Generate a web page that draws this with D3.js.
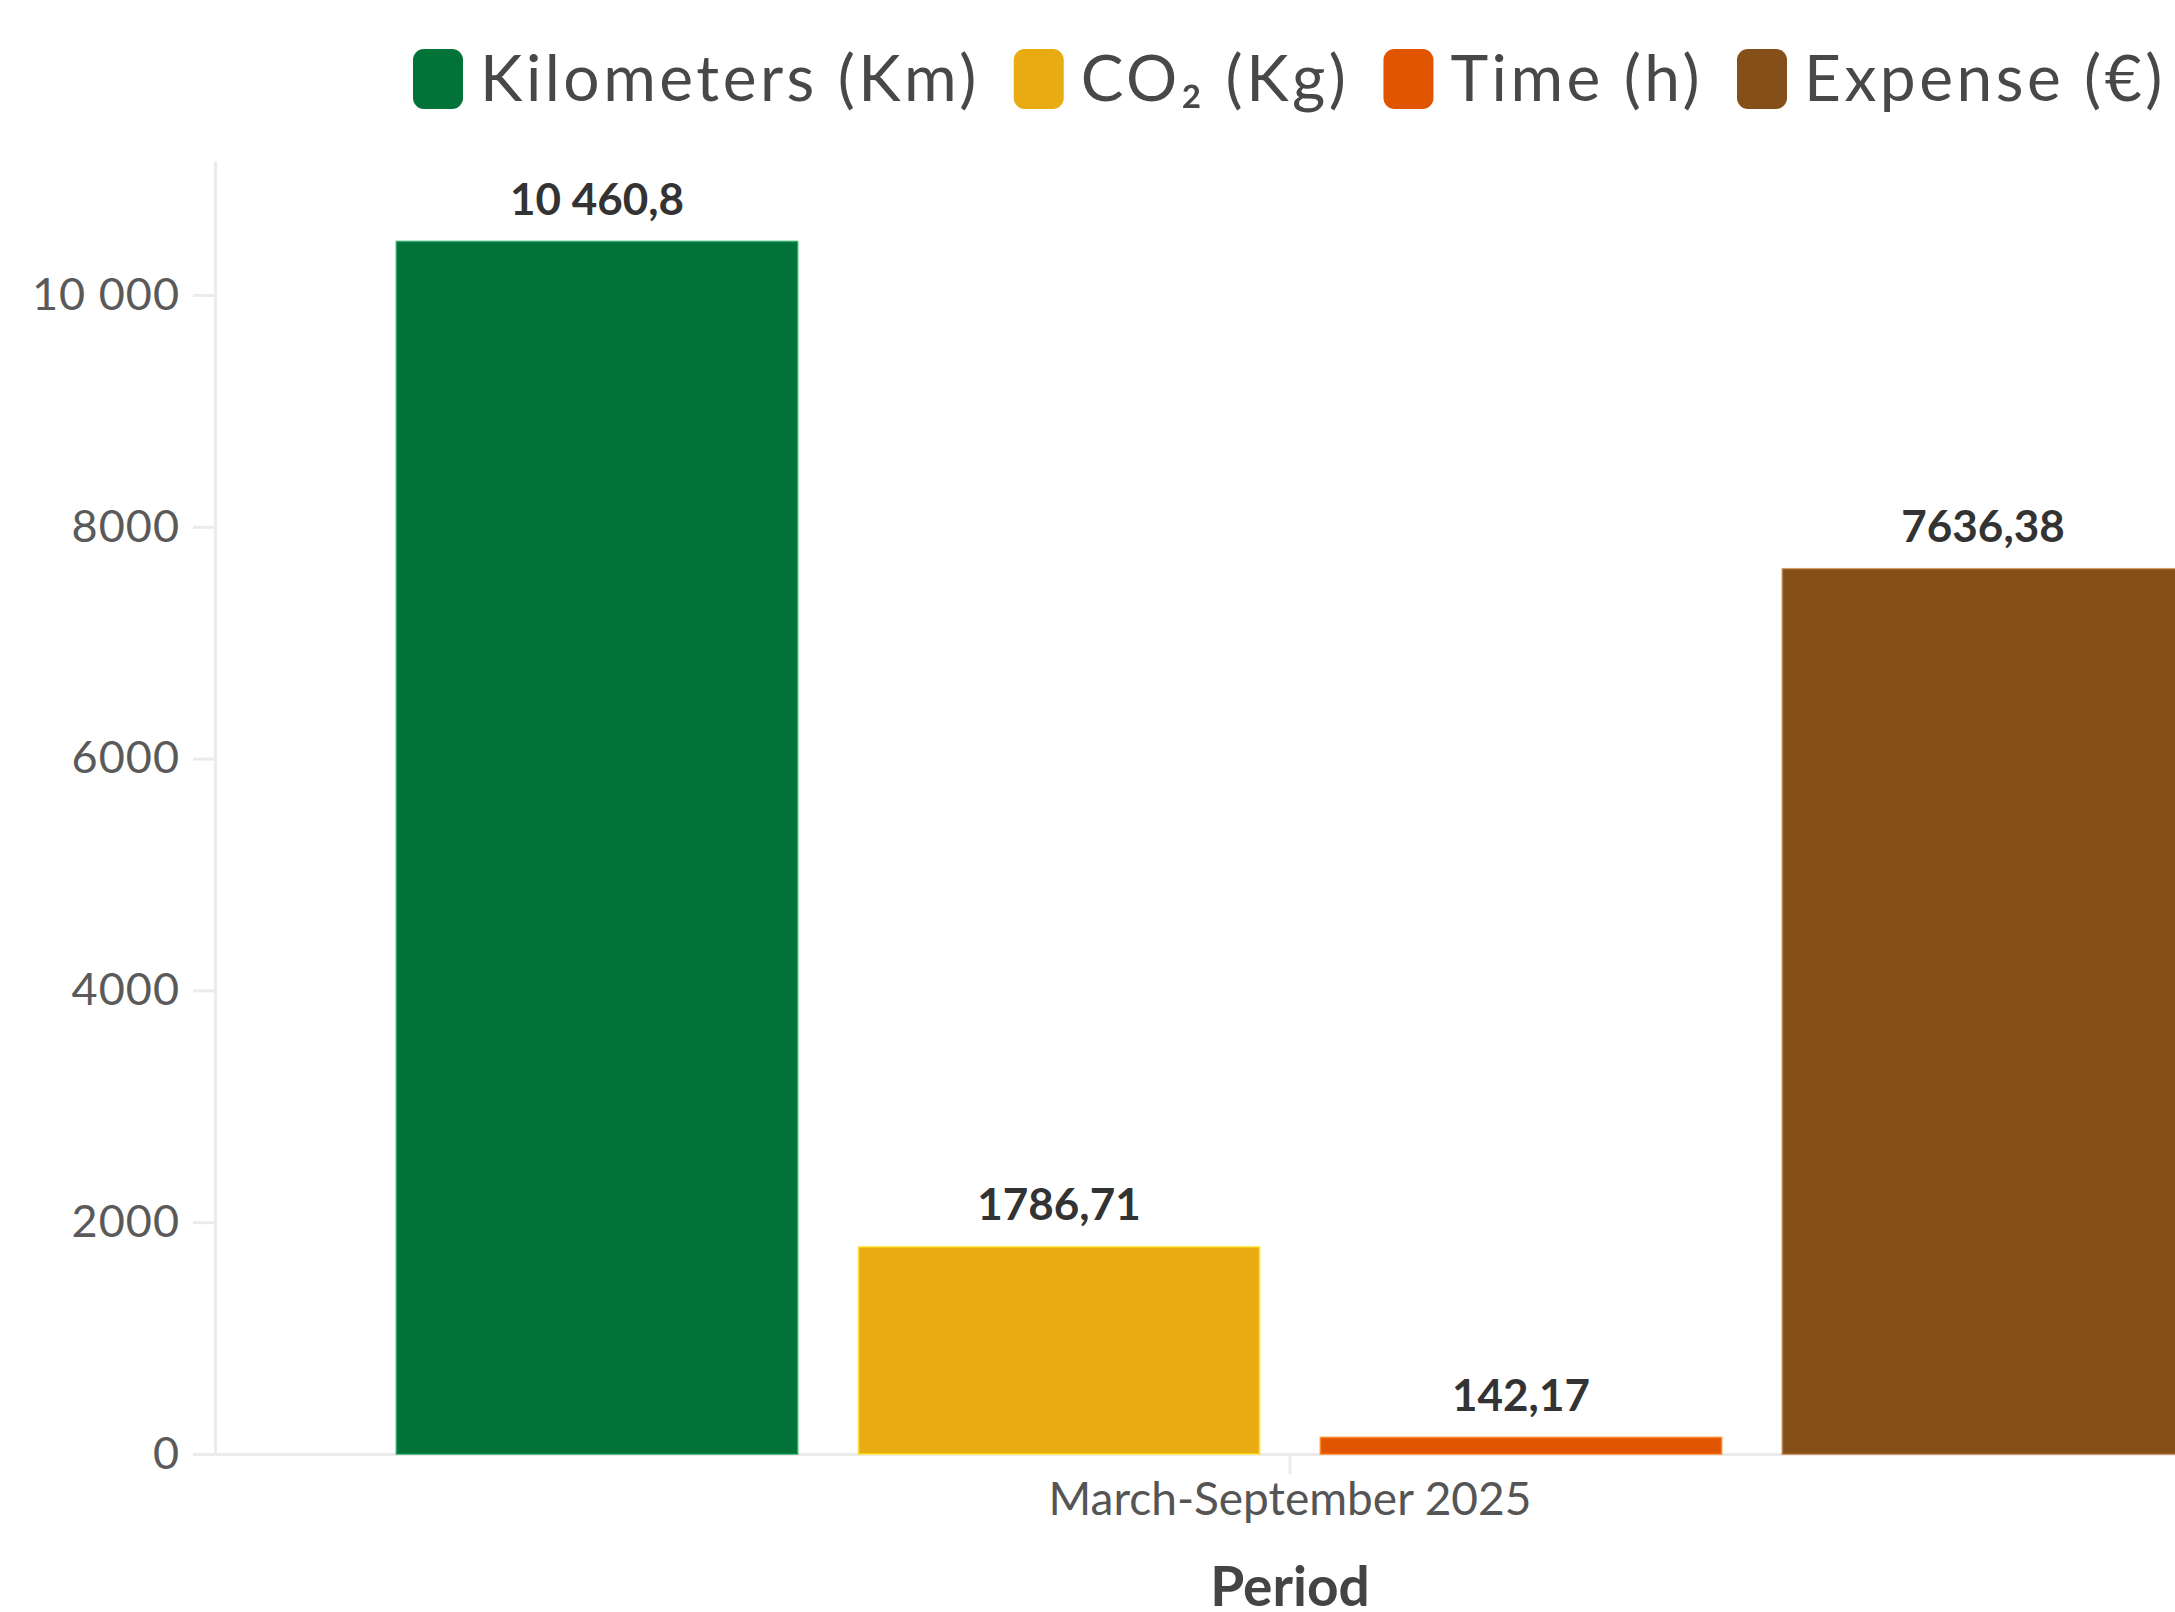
<!DOCTYPE html>
<html>
<head>
<meta charset="utf-8">
<script src="https://cdn.jsdelivr.net/npm/d3@7"></script>
<style>
  html, body { margin: 0; padding: 0; background: #fff; overflow: hidden; }
  svg { display: block; font-family: Lato, "Noto Sans", sans-serif; }
</style>
</head>
<body>
<svg id="chart" width="2175" height="1612"></svg>
<script>
// Travel totals for the period, one bar per measure
const periods = ["March-September 2025"];
const seriesNames = ["Kilometers (Km)", "CO\u2082 (Kg)", "Time (h)", "Expense (\u20ac)"];
const seriesValues = [10460.8, 1786.71, 142.17, 7636.38];
const seriesColors = ["#017238", "#e8ac12", "#e15500", "#844f19"];
const yTickValues = [0, 2000, 4000, 6000, 8000, 10000];
const yMax = 11156;

const svg = d3.select("#chart");
const plot = { left: 215, right: 2365, top: 161, bottom: 1454 };

// Numbers: comma decimals; grouping only from five digits up
const loc = d3.formatLocale({ decimal: ",", thousands: "\u00a0", grouping: [3] });
const fmtGroup = loc.format(",.2~f");
const fmtPlain = loc.format(".2~f");
const fmt = v => Math.abs(v) >= 10000 ? fmtGroup(v) : fmtPlain(v);

const y = d3.scaleLinear().domain([0, yMax]).range([plot.bottom, plot.top]);
const x0 = d3.scaleBand().domain(periods).range([plot.left, plot.right])
  .paddingInner(0).paddingOuter(0.0817);
const x1 = d3.scaleBand().domain(seriesNames).range([0, x0.bandwidth()])
  .paddingInner(0.132).paddingOuter(0.066);
const color = d3.scaleOrdinal().domain(seriesNames).range(seriesColors);

const axisColor = "#ebebeb";

// Y axis
const yAxis = svg.append("g")
  .attr("transform", `translate(${plot.left},0)`)
  .call(d3.axisLeft(y).tickValues(yTickValues).tickFormat(fmt).tickSize(22).tickPadding(13).tickSizeOuter(0));
yAxis.select(".domain").attr("stroke", axisColor).attr("stroke-width", 3);
yAxis.selectAll(".tick line").attr("stroke", axisColor).attr("stroke-width", 3);
yAxis.selectAll(".tick text").attr("fill", "#5a5a5a").attr("font-size", 45)
  .attr("letter-spacing", 1)
  .attr("font-family", "Lato, sans-serif");

// X axis
const xAxis = svg.append("g")
  .attr("transform", `translate(0,${plot.bottom})`)
  .call(d3.axisBottom(x0).tickSize(20).tickPadding(8).tickSizeOuter(0));
xAxis.select(".domain").attr("stroke", axisColor).attr("stroke-width", 3);
xAxis.selectAll(".tick line").attr("stroke", axisColor).attr("stroke-width", 3);
xAxis.selectAll(".tick text").attr("fill", "#555").attr("font-size", 46)
  .attr("font-family", "Lato, sans-serif");

// X axis title
svg.append("text")
  .attr("x", x0(periods[0]) + x0.bandwidth() / 2)
  .attr("y", 1606)
  .attr("text-anchor", "middle")
  .attr("font-size", 55)
  .attr("font-weight", "bold")
  .attr("fill", "#444")
  .text("Period");

// Bars
const rows = seriesNames.map((name, i) => ({ period: periods[0], name, value: seriesValues[i] }));
const group = svg.append("g");
group.selectAll("rect.bar")
  .data(rows)
  .join("rect")
  .attr("class", "bar")
  .attr("x", d => x0(d.period) + x1(d.name))
  .attr("y", d => y(d.value))
  .attr("width", x1.bandwidth())
  .attr("height", d => y(0) - y(d.value))
  .attr("fill", d => color(d.name))
  .attr("stroke", d => d3.color(color(d.name)).brighter(0.8))
  .attr("stroke-opacity", 0.6)
  .attr("stroke-width", 2);

// Value labels above bars
group.selectAll("text.val")
  .data(rows)
  .join("text")
  .attr("class", "val")
  .attr("x", d => x0(d.period) + x1(d.name) + x1.bandwidth() / 2)
  .attr("y", d => y(d.value) - 27)
  .attr("text-anchor", "middle")
  .attr("font-size", 44)
  .attr("font-weight", "bold")
  .attr("fill", "#333")
  .text(d => fmt(d.value));

// Legend: rounded swatches followed by names, laid out left to right
const legend = svg.append("g").attr("transform", "translate(413,0)");
let lx = 0;
seriesNames.forEach((name, i) => {
  const item = legend.append("g").attr("transform", `translate(${lx},0)`);
  item.append("rect")
    .attr("x", 0).attr("y", 49).attr("width", 50).attr("height", 60)
    .attr("rx", 11).attr("ry", 11)
    .attr("fill", seriesColors[i]);
  const t = item.append("text")
    .attr("x", 67).attr("y", 79)
    .attr("dy", "0.35em")
    .attr("font-size", 64)
    .attr("letter-spacing", 3.5)
    .attr("fill", "#484848")
    .text(name);
  lx += 67 + t.node().getComputedTextLength() + 34;
});
</script>
</body>
</html>
